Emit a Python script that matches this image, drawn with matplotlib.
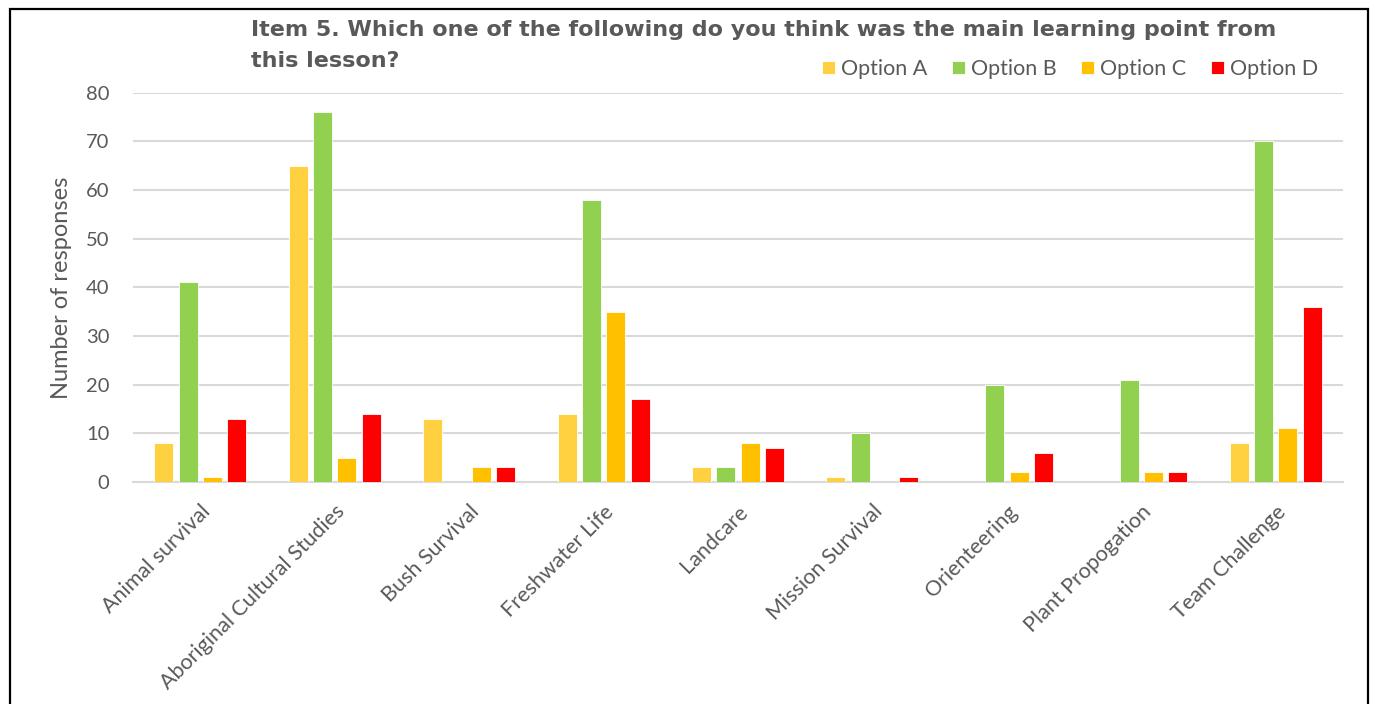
import matplotlib
matplotlib.use("Agg")
import matplotlib.pyplot as plt
import numpy as np
from matplotlib.patches import Rectangle

categories = ["Animal survival", "Aboriginal Cultural Studies", "Bush Survival",
              "Freshwater Life", "Landcare", "Mission Survival", "Orienteering",
              "Plant Propogation", "Team Challenge"]
option_a = [8, 65, 13, 14, 3, 1, 0, 0, 8]
option_b = [41, 76, 0, 58, 3, 10, 20, 21, 70]
option_c = [1, 5, 3, 35, 8, 0, 2, 2, 11]
option_d = [13, 14, 3, 17, 7, 1, 6, 2, 36]
series_names = ["Option A", "Option B", "Option C", "Option D"]
colors = ["#FFD040", "#92D050", "#FFC000", "#FF0000"]
yticks = [0, 10, 20, 30, 40, 50, 60, 70, 80]
title_lines = ["Item 5. Which one of the following do you think was the main learning point from",
               "this lesson?"]

TXT = "#595959"
plt.rcParams['font.family'] = ['Lato', 'DejaVu Sans']

W, H = 1376, 704
fig = plt.figure(figsize=(W / 100, H / 100), dpi=100)
ax = fig.add_axes([133 / W, 1 - 482 / H, 1210 / W, (482 - 92.7) / H])

x = np.arange(len(categories))
w = 0.141
pitch = 0.181
series = [option_a, option_b, option_c, option_d]
for i, (vals, name, col) in enumerate(zip(series, series_names, colors)):
    ax.bar(x + (i - 1.5) * pitch, vals, width=w, color=col, label=name,
           edgecolor="white", linewidth=0.6, zorder=3)

ax.set_xlim(-0.5, len(categories) - 0.5)
ax.set_ylim(0, 80)
ax.set_yticks(yticks)
ax.set_yticklabels([str(v) for v in yticks], fontsize=14.5, color=TXT)
ax.set_xticks(x)
ax.set_xticklabels(categories, rotation=45, ha='right', va='top', rotation_mode='anchor',
                   fontsize=15.5, color=TXT)
ax.tick_params(axis='both', length=0)
ax.tick_params(axis='y', pad=17)
ax.tick_params(axis='x', pad=14)
ax.yaxis.grid(True, color="#D9D9D9", linewidth=1.5, zorder=0)
for s in ['top', 'right', 'left']:
    ax.spines[s].set_visible(False)
ax.spines['bottom'].set_color("#D9D9D9")
ax.spines['bottom'].set_linewidth(1.5)
ax.set_ylabel("Number of responses", fontsize=17, color=TXT, labelpad=10)

fig.text(251 / W, 1 - 36 / H, title_lines[0], fontsize=16, fontweight='bold', color=TXT,
         family='DejaVu Sans', ha='left', va='baseline')
fig.text(251 / W, 1 - 67 / H, title_lines[1], fontsize=16, fontweight='bold', color=TXT,
         family='DejaVu Sans', ha='left', va='baseline')

leg = fig.legend(*ax.get_legend_handles_labels(), loc='center left',
                 bbox_to_anchor=(822 / W, 1 - 69 / H), ncol=4, frameon=False,
                 fontsize=15.5, handlelength=0.6, handleheight=0.6, handletextpad=0.28,
                 columnspacing=1.15, borderpad=0, borderaxespad=0)
for t in leg.get_texts():
    t.set_color(TXT)

fig.patches.append(Rectangle((9.5 / W, -0.1), (1368 - 9.5) / W, 1.1 - 9.5 / H,
                             transform=fig.transFigure, fill=False,
                             edgecolor="black", linewidth=1.6))

fig.savefig("out.png", dpi=100)
